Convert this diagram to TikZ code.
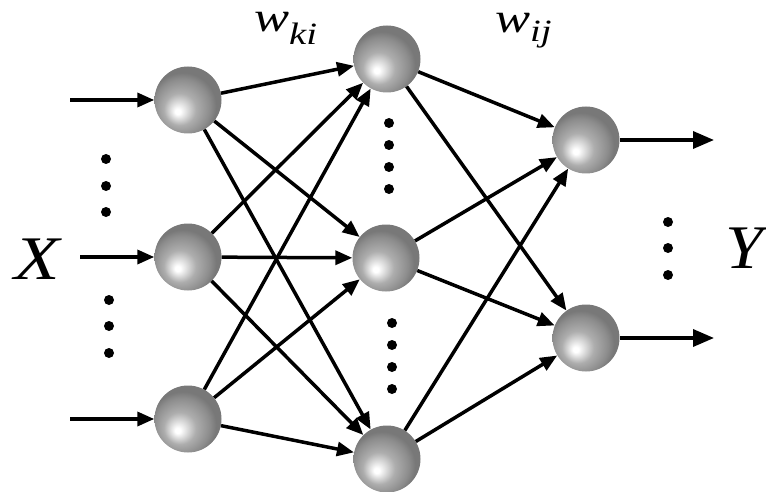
\documentclass[tikz,border=0pt]{standalone}
\usepackage{fontspec}
\setmainfont{Liberation Serif}
\usetikzlibrary{arrows.meta}
\definecolor{ballmid}{rgb}{0.68,0.68,0.68}
\definecolor{balldark}{rgb}{0.55,0.55,0.55}
\definecolor{balledge}{rgb}{0.47,0.47,0.47}
\pgfdeclareradialshading{sphereball}{\pgfqpoint{-8bp}{-9bp}}{color(0bp)=(white); color(2bp)=(white); color(12bp)=(ballmid); color(21bp)=(balldark); color(25bp)=(balledge); color(50bp)=(balledge)}
\begin{document}
\begin{tikzpicture}[x=1pt,y=-1pt,
  neuron/.style={circle,minimum size=67pt,inner sep=0pt,shading=sphereball},
  conn/.style={line width=3.5pt,-{Triangle[length=17pt,width=14pt]}},
  bigconn/.style={line width=3.5pt,-{Triangle[length=21pt,width=17pt]}},
  vdot/.style={circle,fill=black,inner sep=0pt,minimum size=10pt},
  lbl/.style={inner sep=0pt,font=\fontsize{62}{62}\selectfont\itshape},
  wlbl/.style={inner sep=0pt,font=\fontsize{42}{42}\selectfont\itshape}]
\useasboundingbox (0,0) rectangle (766,492);
% nodes
\node[neuron] (i1) at (188,100) {};
\node[neuron] (i2) at (188,257) {};
\node[neuron] (i3) at (188,419) {};
\node[neuron] (h1) at (387,59) {};
\node[neuron] (h2) at (386,258) {};
\node[neuron] (h3) at (387,459) {};
\node[neuron] (o1) at (586,140) {};
\node[neuron] (o2) at (586,338) {};
% free ends
\coordinate (x1) at (70,100);
\coordinate (x2) at (80,257);
\coordinate (x3) at (70,419);
\coordinate (y1) at (714,140);
\coordinate (y2) at (714,338);
% input arrows
\draw[conn] (x1) -- (i1);
\draw[conn] (x2) -- (i2);
\draw[conn] (x3) -- (i3);
% input to hidden
\foreach \a in {i1,i2,i3}{
  \foreach \b in {h1,h2,h3}{
    \draw[conn] (\a) -- (\b);
  }
}
% hidden to output
\foreach \a in {h1,h2,h3}{
  \foreach \b in {o1,o2}{
    \draw[conn] (\a) -- (\b);
  }
}
% output arrows
\draw[bigconn] (o1) -- (y1);
\draw[bigconn] (o2) -- (y2);
% dots
\node[vdot] (d1) at (106,159) {};
\node[vdot] (d2) at (106,186) {};
\node[vdot] (d3) at (106,212) {};
\node[vdot] (d4) at (109,300) {};
\node[vdot] (d5) at (109,326) {};
\node[vdot] (d6) at (109,353) {};
\node[vdot] (d7) at (389,123) {};
\node[vdot] (d8) at (389,145) {};
\node[vdot] (d9) at (389,167) {};
\node[vdot] (d10) at (389,189) {};
\node[vdot] (d11) at (392,323) {};
\node[vdot] (d12) at (392,345) {};
\node[vdot] (d13) at (392,367) {};
\node[vdot] (d14) at (392,389) {};
\node[vdot] (d15) at (668,222) {};
\node[vdot] (d16) at (668,248) {};
\node[vdot] (d17) at (668,275) {};
% labels
\node[lbl] (X) at (37,259) {\scalebox{1.2}[1]{X}};
\node[lbl] (Y) at (744,248) {\scalebox{1.1}[1]{Y}};
\node[wlbl,anchor=base west] (wki) at (254,32) {\scalebox{1.25}[1]{w\raisebox{-0.3em}{\fontsize{31}{31}\selectfont ki}}};
\node[wlbl,anchor=base west] (wij) at (495,33) {\scalebox{1.25}[1]{w\raisebox{-0.2em}{\fontsize{31}{31}\selectfont ij}}};
\end{tikzpicture}
\end{document}
